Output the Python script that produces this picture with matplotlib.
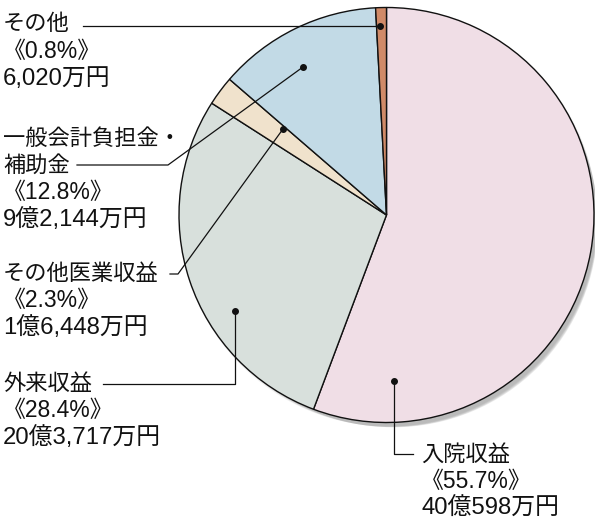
import numpy as np
import matplotlib.pyplot as plt
from matplotlib.patches import Circle

plt.rcParams['font.family'] = ['Liberation Sans', 'Noto Sans CJK JP', 'DejaVu Sans']

# 収入の内訳（万円）
labels = ['入院収益', '外来収益', 'その他医業収益', '一般会計負担金・\n補助金', 'その他']
amounts = [400598, 203717, 16448, 92144, 6020]
percents = ['55.7%', '28.4%', '2.3%', '12.8%', '0.8%']
amount_text = ['40億598万円', '20億3,717万円', '1億6,448万円', '9億2,144万円', '6,020万円']
colors = ['#f0dee6', '#d8e0dc', '#f0e2cc', '#c2dae6', '#d08a68']

W, H = 595, 520
fig = plt.figure(figsize=(W / 100, H / 100), dpi=100)
ax = fig.add_axes([0, 0, 1, 1])

cx, cy, r = 386.5, H - 215, 207.5

# soft shadow
for i, a in enumerate([0.04, 0.05, 0.06, 0.07, 0.08]):
    ax.add_patch(Circle((cx + 2 + i * 1.2, cy - 3 - i * 1.2), r + 1 - i, color='#000000',
                        alpha=a, lw=0, zorder=0))

ax.pie(amounts, colors=colors, startangle=90, counterclock=False, center=(cx, cy),
       radius=r, wedgeprops=dict(edgecolor='#111111', linewidth=1.0),
       frame=True)
ax.set_xlim(0, W)
ax.set_ylim(0, H)
ax.set_aspect('equal')
ax.axis('off')


def Y(y):
    return H - y


# leader lines: (polyline in pixel coords, dot at end)
leaders = [
    [(394, 381), (394, 454), (413, 454)],
    [(235, 311), (235, 384), (103, 384)],
    [(283, 129), (178, 274), (170, 274)],
    [(303, 67), (168, 165), (77, 165)],
    [(380, 26), (83, 26)],
]
for pts in leaders:
    xs = [p[0] for p in pts]
    ys = [Y(p[1]) for p in pts]
    ax.plot(xs, ys, color='#111111', lw=0.9, zorder=5)
    ax.plot(xs[0], ys[0], 'o', color='#111111', ms=4, zorder=6)

# label blocks: left edge and centre of first line
text_pos = [(421, 455), (3, 384), (3, 274), (3, 139), (3, 25)]
lh = 27
for lab, pc, am, (tx, ty) in zip(labels, percents, amount_text, text_pos):
    lines = [(s, 16) for s in lab.split('\n')]
    lines += [('《' + pc + '》', 16.5), (am, 17.2)]
    for k, (line, fs) in enumerate(lines):
        ax.text(tx, Y(ty + k * lh), line, fontsize=fs, ha='left', va='center',
                color='#111111', zorder=7)

fig.savefig('out.png', dpi=100)
